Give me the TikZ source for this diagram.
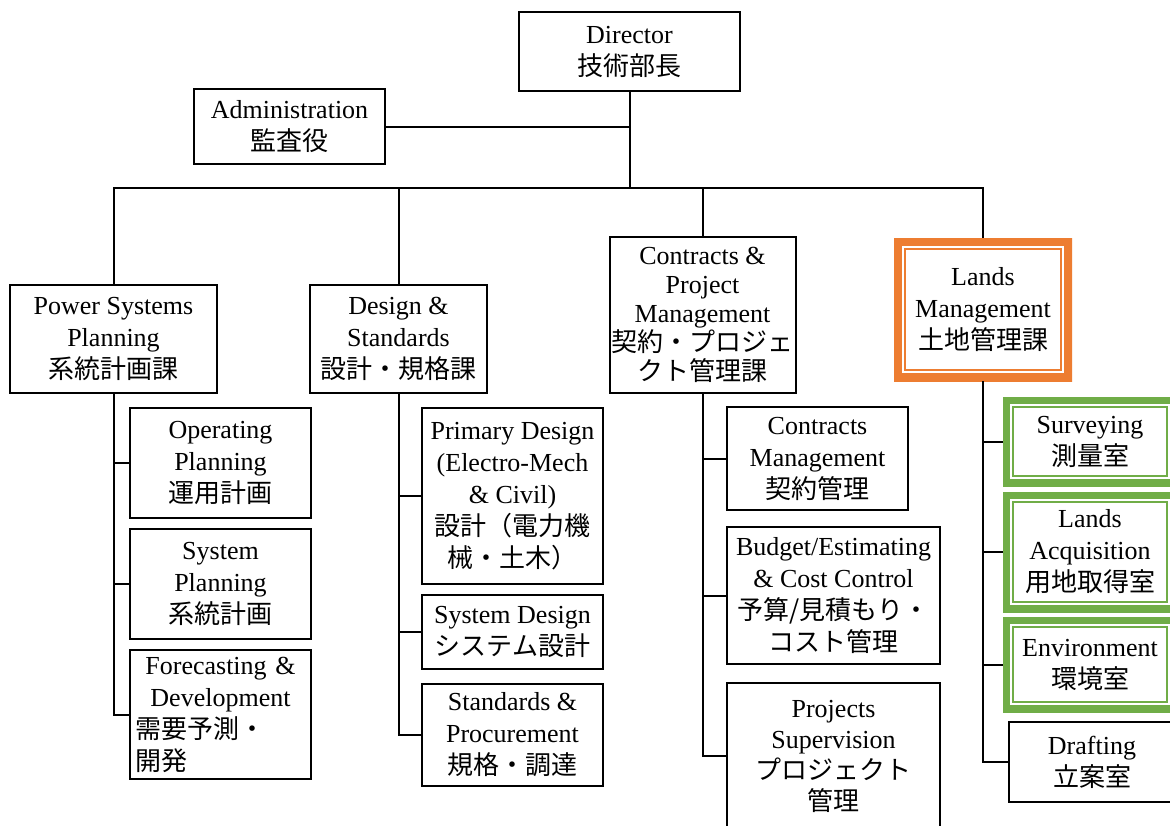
\documentclass[tikz,border=0pt]{standalone}
\usepackage{fontspec}
\setmainfont{Liberation Serif}
\newfontfamily\jp{Noto Sans CJK JP}
\newcommand\orgfont{\fontsize{26}{32}\selectfont}
\definecolor{frameorange}{RGB}{237,125,49}
\definecolor{framegreen}{RGB}{112,173,71}
\tikzset{
  box/.style={draw, line width=2pt, inner sep=2pt, outer sep=0pt, align=center, font=\orgfont},
  framed/.style n args={3}{fill=white, line width=0pt, inner sep=2pt, outer sep=0pt, align=center, font=\orgfont,
    path picture={
      \draw[#1, line width=2*#2] (path picture bounding box.north west) rectangle (path picture bounding box.south east);
      \draw[#1, line width=1.6pt] ([shift={(#3,-#3)}]path picture bounding box.north west) rectangle ([shift={(-#3,#3)}]path picture bounding box.south east);
    }},
  orangebox/.style={framed={frameorange}{8pt}{11pt}},
  greenbox/.style={framed={framegreen}{7pt}{10pt}},
  conn/.style={line width=2pt},
}
\begin{document}
\begin{tikzpicture}[x=1pt, y=-1pt]
\path[use as bounding box] (0,0) rectangle (1170,825);
\clip (0,0) rectangle (1170,825);
\fill[white] (0,0) rectangle (1170,825);

% top level
\node[box, minimum width=221pt, minimum height=79pt] (dir) at (629.5,51.5) {Director\\\jp 技術部長};
\node[box, minimum width=191pt, minimum height=75pt] (adm) at (289.5,126.5) {Administration\\\jp 監査役};
\coordinate (bus) at (630,188);

% departments
\node[box, minimum width=207pt, minimum height=108pt] (psp) at (113.5,339) {Power Systems\\Planning\\\jp 系統計画課};
\node[box, minimum width=177pt, minimum height=108pt] (ds) at (398.5,339) {Design \&\\Standards\\\jp 設計・規格課};
\node[box, minimum width=181pt, minimum height=156pt, font=\fontsize{26}{29}\selectfont] (cpm) at (702.5,315) {Contracts \&\\Project\\Management\\\jp 契約・プロジェ\\\jp クト管理課};
\node[orangebox, minimum width=178pt, minimum height=143pt] (lm) at (983,309.5) {Lands\\Management\\\jp 土地管理課};

% power systems planning sections
\node[box, minimum width=181pt, minimum height=110pt] (op) at (220.5,463) {Operating\\Planning\\\jp 運用計画};
\node[box, minimum width=181pt, minimum height=110pt] (sp) at (220.5,584) {System\\Planning\\\jp 系統計画};
\node[box, minimum width=181pt, minimum height=129pt, text width=171pt] (fd) at (220.5,714.5) {Forecasting \&\\Development\\\makebox[171pt][l]{\jp 需要予測・}\\\makebox[171pt][l]{\jp 開発}};

% design & standards sections
\node[box, minimum width=181pt, minimum height=176pt] (pd) at (512.5,496) {Primary Design\\(Electro-Mech\\\& Civil)\\\jp 設計（電力機\\\jp 械・土木）};
\node[box, minimum width=181pt, minimum height=74pt] (sd) at (512.5,632) {System Design\\\jp システム設計};
\node[box, minimum width=181pt, minimum height=102pt] (stp) at (512.5,735) {Standards \&\\Procurement\\\jp 規格・調達};

% contracts sections
\node[box, minimum width=181pt, minimum height=103pt] (cm) at (817.5,458.5) {Contracts\\Management\\\jp 契約管理};
\node[box, minimum width=213pt, minimum height=137pt] (bud) at (833.5,595.5) {Budget/Estimating\\\& Cost Control\\\jp 予算/見積もり・\\\jp コスト管理};
\node[box, minimum width=213pt, minimum height=146pt, font=\fontsize{26}{31}\selectfont] (ps) at (833.5,756) {Projects\\Supervision\\\jp プロジェクト\\\jp 管理};

% lands sections
\node[greenbox, minimum width=174pt, minimum height=89pt] (sur) at (1090,441.5) {Surveying\\\jp 測量室};
\node[greenbox, minimum width=174pt, minimum height=120pt] (la) at (1090,552) {Lands\\Acquisition\\\jp 用地取得室};
\node[greenbox, minimum width=174pt, minimum height=95pt] (env) at (1090,664.5) {Environment\\\jp 環境室};
\node[box, minimum width=166pt, minimum height=80pt] (dr) at (1092,762) {Drafting\\\jp 立案室};

% connectors: top
\draw[conn] (dir.south) -- (dir.south |- bus);
\draw[conn] (adm.east) -- (adm.east -| dir.south);
\draw[conn] (psp.north) -- (psp.north |- bus) -- (lm.north |- bus) -- (lm.north);
\draw[conn] (ds.north) -- (ds.north |- bus);
\draw[conn] (cpm.north) -- (cpm.north |- bus);

% connectors: power systems planning
\draw[conn] (psp.south) |- (fd.west);
\draw[conn] (psp.south |- op.west) -- (op.west);
\draw[conn] (psp.south |- sp.west) -- (sp.west);

% connectors: design & standards
\draw[conn] (ds.south) |- (stp.west);
\draw[conn] (ds.south |- pd.west) -- (pd.west);
\draw[conn] (ds.south |- sd.west) -- (sd.west);

% connectors: contracts
\draw[conn] (cpm.south) |- (ps.west);
\draw[conn] (cpm.south |- cm.west) -- (cm.west);
\draw[conn] (cpm.south |- bud.west) -- (bud.west);

% connectors: lands
\draw[conn] (lm.south) |- (dr.west);
\draw[conn] (lm.south |- sur.west) -- (sur.west);
\draw[conn] (lm.south |- la.west) -- (la.west);
\draw[conn] (lm.south |- env.west) -- (env.west);
\end{tikzpicture}
\end{document}
